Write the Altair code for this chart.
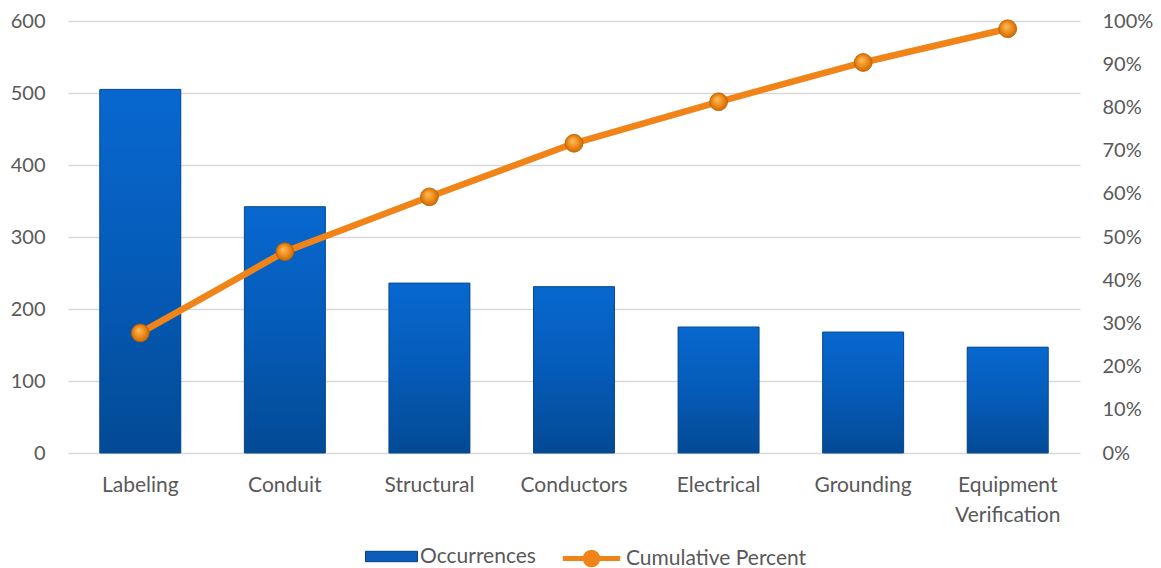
import altair as alt
import pandas as pd

categories = ["Labeling", "Conduit", "Structural", "Conductors", "Electrical", "Grounding", "Equipment Verification"]
occurrences = [505, 342, 236, 231, 175, 168, 147]
cumulative_pct = [0.278, 0.466, 0.593, 0.717, 0.813, 0.904, 0.982]

df = pd.DataFrame({
    "category": categories,
    "Occurrences": occurrences,
    "Cumulative Percent": cumulative_pct,
    "bar_series": ["Occurrences"] * len(categories),
    "line_series": ["Cumulative Percent"] * len(categories),
})

FONT = "Lato"
GRAY = "#595959"
ORANGE = "#F08418"

x_enc = alt.X(
    "category:N", sort=categories, title=None,
    scale=alt.Scale(paddingInner=0.44, paddingOuter=0.22),
    axis=alt.Axis(labelAngle=0, labelFontSize=21, labelColor=GRAY, labelFont=FONT,
                  labelPadding=21, labelLineHeight=30, domain=False, ticks=False,
                  labelExpr="split(datum.label, ' ')"),
)

bar_gradient = alt.LinearGradient(
    gradient="linear", x1=0, y1=0, x2=0, y2=1,
    stops=[alt.GradientStop(offset=0, color="#0868CF"),
           alt.GradientStop(offset=0.5, color="#055BB8"),
           alt.GradientStop(offset=1, color="#034A95")],
)

y_left = alt.Y(
    "Occurrences:Q", title=None,
    scale=alt.Scale(domain=[0, 600], nice=False),
    axis=alt.Axis(values=[0, 100, 200, 300, 400, 500, 600], labelFontSize=20, labelColor=GRAY,
                  labelFont=FONT, labelPadding=23, domain=False, ticks=False,
                  grid=True, gridColor="#D9D9D9", gridWidth=1.5),
)

bars_legend = alt.Chart(df).mark_bar().encode(
    x=x_enc,
    y=y_left,
    color=alt.Color("bar_series:N", title=None,
                    scale=alt.Scale(domain=["Occurrences"], range=["#0A5DB8"]),
                    legend=alt.Legend(orient="none", legendX=297, legendY=509, padding=0,
                                      symbolType="M-1,-0.2L1,-0.2L1,0.2L-1,0.2Z",
                                      symbolSize=2700, symbolStrokeColor="#063F80", symbolStrokeWidth=1,
                                      labelFontSize=21, labelColor=GRAY, labelFont=FONT,
                                      labelOffset=2, labelLimit=300)),
)

bars_fill = alt.Chart(df).mark_bar(stroke="#0A4A8E", strokeWidth=1).encode(
    x=x_enc,
    y=y_left,
    fill=alt.value(bar_gradient),
)

y_right = alt.Y(
    "Cumulative Percent:Q", title=None,
    scale=alt.Scale(domain=[0, 1], nice=False),
    axis=alt.Axis(orient="right", format=".0%", values=[i / 10 for i in range(11)],
                  labelFontSize=20, labelColor=GRAY, labelFont=FONT, labelPadding=22,
                  domain=False, ticks=False, grid=False),
)

line = alt.Chart(df).mark_line(strokeWidth=6.5).encode(
    x=x_enc,
    y=y_right,
    stroke=alt.Stroke("line_series:N", title=None,
                      scale=alt.Scale(domain=["Cumulative Percent"], range=[ORANGE]),
                      legend=alt.Legend(orient="none", legendX=492, legendY=506, padding=0,
                                        symbolType="M-1,0L1,0M-0.22,0A0.22,0.22,0,1,1,0.22,0A0.22,0.22,0,1,1,-0.22,0Z",
                                        symbolSize=3300, symbolStrokeWidth=5, symbolFillColor=ORANGE,
                                        labelFontSize=21, labelColor=GRAY, labelFont=FONT,
                                        labelOffset=3, labelLimit=300)),
)

point_gradient = alt.RadialGradient(
    gradient="radial", x1=0.4, y1=0.35, r1=0, x2=0.5, y2=0.5, r2=0.55,
    stops=[alt.GradientStop(offset=0, color="#FCC060"),
           alt.GradientStop(offset=0.5, color="#F29020"),
           alt.GradientStop(offset=1, color="#C86400")],
)

points = alt.Chart(df).mark_point(filled=True, shape="circle", size=320, opacity=1,
                                  stroke="#B86000", strokeWidth=0.8).encode(
    x=x_enc,
    y=y_right,
    fill=alt.value(point_gradient),
)

left = alt.layer(bars_legend, bars_fill)
right = alt.layer(line, points)

chart = alt.layer(left, right).resolve_scale(y="independent", stroke="independent", color="independent").properties(
    width=1012, height=432,
    autosize=alt.AutoSizeParams(type="none"),
    padding={"left": 68, "top": 21, "right": 81, "bottom": 115},
).configure_view(stroke=None)

chart.save("out.html", embed_options={"renderer": "svg", "actions": False})
